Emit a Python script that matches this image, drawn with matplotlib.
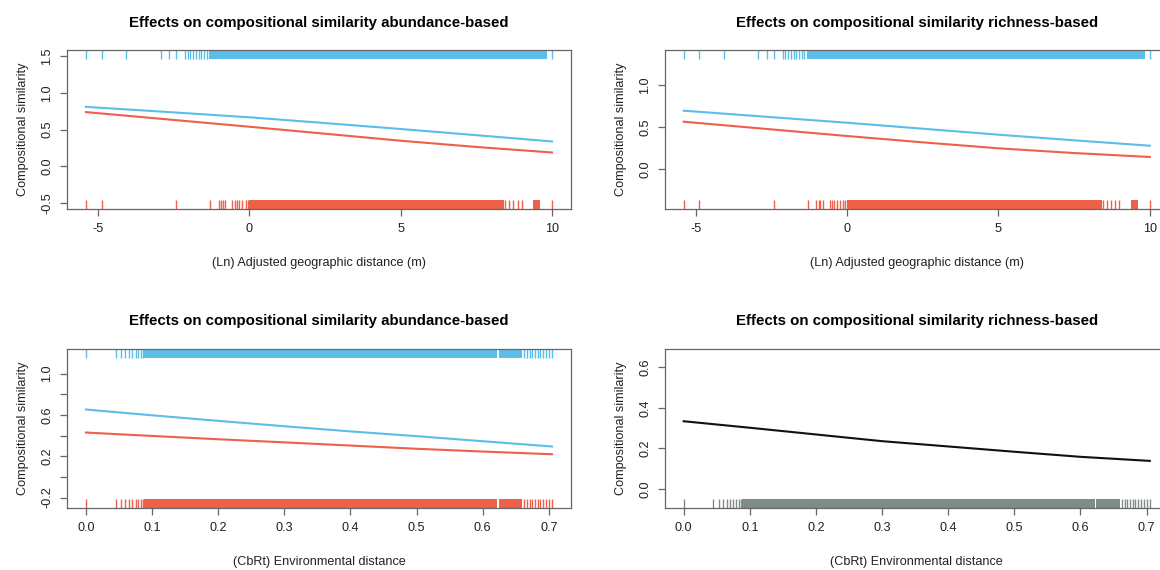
import matplotlib
matplotlib.use("Agg")
import matplotlib.pyplot as plt
from matplotlib.ticker import FixedLocator, FixedFormatter

plt.rcParams['font.family'] = ['Liberation Sans', 'DejaVu Sans']
plt.rcParams['axes.unicode_minus'] = False

BLUE = '#5bbee8'
RED = '#ee6048'
GRAY_RUG = '#7f8b89'
FRAME = '#666666'

title_abund = 'Effects on compositional similarity abundance-based'
title_rich = 'Effects on compositional similarity richness-based'
ylab = 'Compositional similarity'
xlab_geo = '(Ln) Adjusted geographic distance (m)'
xlab_env = '(CbRt) Environmental distance'

# fitted curves, geographic distance panels
geo_x = [-5.4, -2.5, 0, 2.5, 5, 7.5, 10]
geo_abund_blue = [0.81, 0.735, 0.668, 0.59, 0.509, 0.425, 0.34]
geo_abund_red = [0.739, 0.632, 0.54, 0.445, 0.35, 0.265, 0.19]
geo_rich_blue = [0.696, 0.619, 0.553, 0.482, 0.411, 0.344, 0.28]
geo_rich_red = [0.565, 0.474, 0.395, 0.32, 0.249, 0.193, 0.146]

# fitted curves, environmental distance panels
env_x = [0, 0.1, 0.2, 0.3, 0.4, 0.5, 0.6, 0.705]
env_abund_blue = [0.652, 0.596, 0.542, 0.49, 0.44, 0.394, 0.345, 0.294]
env_abund_red = [0.429, 0.396, 0.364, 0.334, 0.303, 0.272, 0.245, 0.219]
env_rich_black = [0.334, 0.302, 0.269, 0.236, 0.21, 0.184, 0.159, 0.139]

# rug marks: single ticks + dense blocks (start, end)
geo_rug_top = [-5.39, -4.88, -4.06, -2.93, -2.66, -2.41, -2.12, -2.04, -1.95, -1.86,
               -1.77, -1.68, -1.59, -1.50, -1.41, 9.99]
geo_rug_top_blocks = [(-1.32, 9.84)]
geo_rug_bot = [-5.39, -4.88, -2.41, -1.30, -1.02, -0.94, -0.88, -0.80, -0.58, -0.49,
               -0.42, -0.33, -0.25, -0.12, -0.06, 8.46, 8.58, 8.72, 8.86, 8.99, 9.99]
geo_rug_bot_blocks = [(-0.02, 8.42), (9.38, 9.60)]

env_rug = [0.0, 0.045, 0.053, 0.059, 0.065, 0.070, 0.075, 0.079, 0.083, 0.086,
           0.663, 0.667, 0.671, 0.675, 0.679, 0.683, 0.687, 0.691, 0.696, 0.700, 0.705]
env_rug_blocks = [(0.0885, 0.622), (0.624, 0.660)]

geo_xticks = [-5, 0, 5, 10]
env_xticks = [0, 0.1, 0.2, 0.3, 0.4, 0.5, 0.6, 0.7]


def rug(ax, ticks, blocks, color, top):
    tr = ax.get_xaxis_transform()
    y0, y1 = (0.945, 1.0) if top else (0.0, 0.055)
    ax.vlines(ticks, y0, y1, colors=color, lw=1.0, transform=tr)
    for a, b in blocks:
        ax.fill_between([a, b], y0, y1, color=color, lw=0, transform=tr)


def style(ax, title, xlabel, xticks, xfmt, yticks, ylabels, xlim, ylim):
    ax.set_xlim(xlim)
    ax.set_ylim(ylim)
    ax.set_title(title, fontsize=10.8, fontweight='bold', pad=17)
    ax.set_xlabel(xlabel, fontsize=9.1, labelpad=16, color='#222222')
    ax.set_ylabel(ylab, fontsize=9.1, labelpad=9, color='#222222')
    ax.set_xticks(xticks)
    ax.set_xticklabels([xfmt.format(v) for v in xticks])
    ax.yaxis.set_major_locator(FixedLocator(yticks))
    ax.yaxis.set_major_formatter(FixedFormatter(ylabels))
    ax.tick_params(axis='both', length=5, width=0.9, color=FRAME, labelsize=9.1,
                   labelcolor='#222222', pad=5)
    for lab in ax.get_yticklabels():
        lab.set_rotation(90)
        lab.set_va('center')
    for sp in ax.spines.values():
        sp.set_color(FRAME)
        sp.set_linewidth(0.9)


fig = plt.figure(figsize=(11.6, 5.7), dpi=100)
W, H = 0.434, 0.279
ax1 = fig.add_axes([0.058, 0.633, W, H])
ax2 = fig.add_axes([0.5733, 0.633, W, H])
ax3 = fig.add_axes([0.058, 0.109, W, H])
ax4 = fig.add_axes([0.5733, 0.109, W, H])

geo_xlim = (-6.016, 10.616)
env_xlim = (-0.0282, 0.7332)

# panel 1
ax1.plot(geo_x, geo_abund_blue, color=BLUE, lw=1.5)
ax1.plot(geo_x, geo_abund_red, color=RED, lw=1.5)
rug(ax1, geo_rug_top, geo_rug_top_blocks, BLUE, True)
rug(ax1, geo_rug_bot, geo_rug_bot_blocks, RED, False)
style(ax1, title_abund, xlab_geo, geo_xticks, '{:g}',
      [-0.5, 0.0, 0.5, 1.0, 1.5], ['-0.5', '0.0', '0.5', '1.0', '1.5'],
      geo_xlim, (-0.58, 1.58))

# panel 2
ax2.plot(geo_x, geo_rich_blue, color=BLUE, lw=1.5)
ax2.plot(geo_x, geo_rich_red, color=RED, lw=1.5)
rug(ax2, geo_rug_top, geo_rug_top_blocks, BLUE, True)
rug(ax2, geo_rug_bot, geo_rug_bot_blocks, RED, False)
style(ax2, title_rich, xlab_geo, geo_xticks, '{:g}',
      [0.0, 0.5, 1.0], ['0.0', '0.5', '1.0'],
      geo_xlim, (-0.474, 1.415))

# panel 3
ax3.plot(env_x, env_abund_blue, color=BLUE, lw=1.5)
ax3.plot(env_x, env_abund_red, color=RED, lw=1.5)
rug(ax3, env_rug, env_rug_blocks, BLUE, True)
rug(ax3, env_rug, env_rug_blocks, RED, False)
style(ax3, title_abund, xlab_env, env_xticks, '{:.1f}',
      [-0.2, 0.0, 0.2, 0.4, 0.6, 0.8, 1.0], ['-0.2', '', '0.2', '', '0.6', '', '1.0'],
      env_xlim, (-0.30, 1.239))

# panel 4
ax4.plot(env_x, env_rich_black, color='#111111', lw=1.5)
rug(ax4, env_rug, env_rug_blocks, GRAY_RUG, False)
style(ax4, title_rich, xlab_env, env_xticks, '{:.1f}',
      [0.0, 0.2, 0.4, 0.6], ['0.0', '0.2', '0.4', '0.6'],
      env_xlim, (-0.092, 0.69))

fig.savefig('out.png', dpi=100)
